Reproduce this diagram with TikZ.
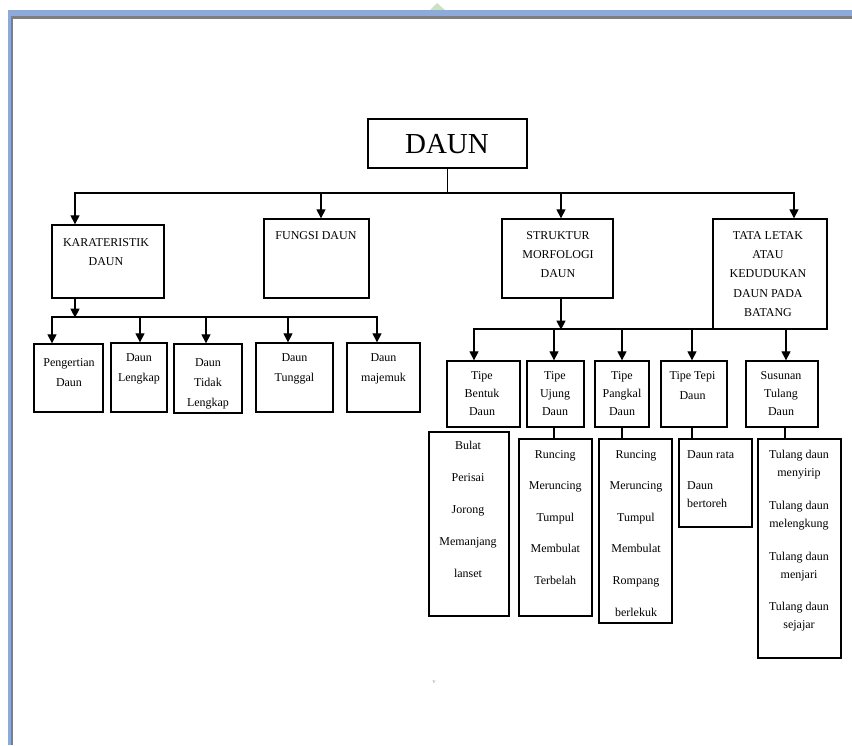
\documentclass[tikz,border=0pt]{standalone}
\usepackage{fontspec}
\setmainfont{Liberation Serif}
\usetikzlibrary{arrows.meta,calc}
\newcommand{\mlc}[1]{\begin{tabular}[t]{@{}c@{}}#1\end{tabular}}
\newcommand{\mll}[1]{\begin{tabular}[t]{@{}l@{}}#1\end{tabular}}
\definecolor{frameblue}{HTML}{8EAADB}
\definecolor{framegray}{HTML}{7F7F7F}
\definecolor{tri}{HTML}{C9E3C0}
\begin{document}
\begin{tikzpicture}[x=1pt,y=-1pt,
  box/.style={draw,line width=1.3pt,inner sep=0,fill=none},
  conn/.style={line width=1.1pt},
  arr/.style={line width=1.1pt,-{Triangle[length=9pt,width=9pt]}},
  f/.style={anchor=base,inner sep=0,font=\fontsize{12}{#1}\selectfont}]
\useasboundingbox (0,0) rectangle (852,745);
% window frame
\fill[tri] (430,10) -- (437,3) -- (445,10) -- cycle;
\fill[frameblue] (8,10) rectangle (852,16);
\fill[framegray] (11,16) rectangle (852,18.5);
\fill[frameblue] (8,16) rectangle (11,745);
\fill[framegray] (11,18.5) rectangle (12.5,745);
% boxes level 0/1
\node[box,minimum width=159pt,minimum height=49pt] (daun) at (447.5,143.5) {};
\node[box,minimum width=112pt,minimum height=73pt] (kar) at (108,261.5) {};
\node[box,minimum width=105pt,minimum height=79pt] (fun) at (316.5,258.5) {};
\node[box,minimum width=111pt,minimum height=79pt] (str) at (557.5,258.5) {};
\node[box,minimum width=114pt,minimum height=110pt] (tata) at (770,274) {};
% level 2 left
\node[box,minimum width=69pt,minimum height=68pt] (pd) at (68.5,378) {};
\node[box,minimum width=56pt,minimum height=69pt] (dl) at (139,377.5) {};
\node[box,minimum width=68pt,minimum height=69pt] (dtl) at (208,378.5) {};
\node[box,minimum width=77pt,minimum height=69pt] (dt) at (294.5,377.5) {};
\node[box,minimum width=73pt,minimum height=69pt] (dm) at (383.5,377.5) {};
% level 2 right
\node[box,minimum width=73pt,minimum height=66pt] (tb) at (483.5,394) {};
\node[box,minimum width=57pt,minimum height=66pt] (tu) at (555.5,394) {};
\node[box,minimum width=54pt,minimum height=66pt] (tp) at (622,394) {};
\node[box,minimum width=66pt,minimum height=66pt] (tt) at (694,394) {};
\node[box,minimum width=72pt,minimum height=66pt] (su) at (782,394) {};
% lists
\node[box,minimum width=80pt,minimum height=184pt] (lb) at (469,524) {};
\node[box,minimum width=73pt,minimum height=177pt] (lu) at (555.5,527.5) {};
\node[box,minimum width=73pt,minimum height=184pt] (lp) at (635.5,531) {};
\node[box,minimum width=73pt,minimum height=88pt] (lt) at (715.5,483) {};
\node[box,minimum width=83pt,minimum height=219pt] (ls) at (799.5,548.5) {};
% texts
\node[anchor=base,inner sep=0,font=\fontsize{29}{34}\selectfont] (daun-t) at (447,153) {DAUN};
\node[f=18.5] (kar-t) at (106,246.5) {\mlc{KARATERISTIK\\DAUN}};
\node[f=18.5] (fun-t) at (316,239) {FUNGSI DAUN};
\node[f=19] (str-t) at (558,239.3) {\mlc{STRUKTUR\\MORFOLOGI\\DAUN}};
\node[f=19.4] (tata-t) at (768,239) {\mlc{TATA LETAK\\ATAU\\KEDUDUKAN\\DAUN PADA\\BATANG}};
\node[f=20] (pd-t) at (69,366) {\mlc{Pengertian\\Daun}};
\node[f=20] (dl-t) at (139,361) {\mlc{Daun\\Lengkap}};
\node[f=20] (dtl-t) at (208,366) {\mlc{Daun\\Tidak\\Lengkap}};
\node[f=20] (dt-t) at (294.5,361) {\mlc{Daun\\Tunggal}};
\node[f=20] (dm-t) at (383.5,361) {\mlc{Daun\\majemuk}};
\node[f=18.3] (tb-t) at (482,379) {\mlc{Tipe\\Bentuk\\Daun}};
\node[f=18.3] (tu-t) at (555,379) {\mlc{Tipe\\Ujung\\Daun}};
\node[f=18.3] (tp-t) at (622,379) {\mlc{Tipe\\Pangkal\\Daun}};
\node[f=20] (tt-t) at (692.5,379) {\mlc{Tipe Tepi\\Daun}};
\node[f=18.3] (su-t) at (781,379) {\mlc{Susunan\\Tulang\\Daun}};
\node[f=32] (lb-t) at (468,449) {\mlc{Bulat\\Perisai\\Jorong\\Memanjang\\lanset}};
\node[f=31.5] (lu-t) at (555.3,458) {\mlc{Runcing\\Meruncing\\Tumpul\\Membulat\\Terbelah}};
\node[f=31.6] (lp-t) at (636,458) {\mlc{Runcing\\Meruncing\\Tumpul\\Membulat\\Rompang\\berlekuk}};
\node[f=18,anchor=base west] (lt-t1) at (687,458) {Daun rata};
\node[f=18,anchor=base west] (lt-t2) at (687,489) {\mll{Daun\\bertoreh}};
\node[f=18.5] (ls-t) at (799,458) {\mlc{Tulang daun\\menyirip\\[14pt]Tulang daun\\melengkung\\[14pt]Tulang daun\\menjari\\[13pt]Tulang daun\\sejajar}};
\node[anchor=base,inner sep=0,font=\fontsize{6}{7}\selectfont,text=black!45] (vmark) at (434,683) {v};
% connectors top
\coordinate (busL) at (75,193);
\coordinate (busR) at (794,193);
\draw[conn] (daun.south) -- (daun.south |- busL);
\draw[conn] (busL) -- (busR);
\draw[arr] ([xshift=-33pt]kar.north) ++(0,-32) -- ++(0,32);
\draw[arr] ([xshift=4.5pt]fun.north) ++(0,-26) -- ++(0,26);
\draw[arr] ([xshift=3.5pt]str.north) ++(0,-26) -- ++(0,26);
\draw[arr] ([xshift=24pt]tata.north) ++(0,-26) -- ++(0,26);
% karateristik children
\coordinate (kb1) at (52,317);
\coordinate (kb2) at (377,317);
\draw[arr] ([xshift=-33pt]kar.south) -- ++(0,19);
\draw[conn] (kb1) -- (kb2);
\draw[arr] ([xshift=-16.5pt]pd.north) ++(0,-27) -- ++(0,27);
\draw[arr] ([xshift=1pt]dl.north) ++(0,-26.5) -- ++(0,26.5);
\draw[arr] ([xshift=-2pt]dtl.north) ++(0,-27) -- ++(0,27);
\draw[arr] ([xshift=-6.5pt]dt.north) ++(0,-26) -- ++(0,26);
\draw[arr] ([xshift=-6.5pt]dm.north) ++(0,-26) -- ++(0,26);
% struktur children
\coordinate (sb1) at (474,329);
\coordinate (sb2) at (786,329);
\draw[arr] ([xshift=3.5pt]str.south) -- ++(0,31);
\draw[conn] (sb1) -- (sb2);
\draw[arr] ([xshift=-9.5pt]tb.north) ++(0,-32) -- ++(0,32);
\draw[arr] ([xshift=-1.5pt]tu.north) ++(0,-32) -- ++(0,32);
\draw[arr] (tp.north) ++(0,-32) -- ++(0,32);
\draw[arr] ([xshift=-2pt]tt.north) ++(0,-32) -- ++(0,32);
\draw[arr] ([xshift=4pt]su.north) ++(0,-32) -- ++(0,32);
% list connectors
\draw[conn] ([xshift=-1.5pt]tu.south) -- ++(0,12);
\draw[conn] (tp.south) -- ++(0,12);
\draw[conn] ([xshift=-2pt]tt.south) -- ++(0,12);
\draw[conn] ([xshift=3pt]su.south) -- ++(0,12);
\end{tikzpicture}
\end{document}
